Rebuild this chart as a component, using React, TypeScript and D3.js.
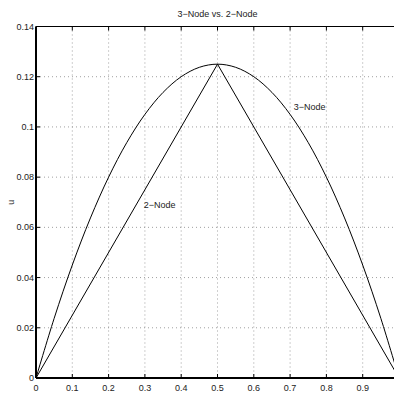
import React from 'react';
import * as d3 from 'd3';

// values
const xNodes3 = [0, 0.05, 0.1, 0.15, 0.2, 0.25, 0.3, 0.35, 0.4, 0.45, 0.5, 0.55, 0.6, 0.65, 0.7, 0.75, 0.8, 0.85, 0.9, 0.95, 1];
const uNodes3 = [0, 0.02375, 0.045, 0.06375, 0.08, 0.09375, 0.105, 0.11375, 0.12, 0.12375, 0.125, 0.12375, 0.12, 0.11375, 0.105, 0.09375, 0.08, 0.06375, 0.045, 0.02375, 0];
const xNodes2 = [0, 0.5, 1];
const uNodes2 = [0, 0.125, 0];
const xTicks = [0, 0.1, 0.2, 0.3, 0.4, 0.5, 0.6, 0.7, 0.8, 0.9, 1];
const yTicks = [0, 0.02, 0.04, 0.06, 0.08, 0.1, 0.12, 0.14];

const W = 394;
const H = 397;
const left = 36;
const top = 26.5;
const right = 399;
const bottom = 378;
const font = 'Liberation Sans, Arial, sans-serif';

export default function App() {
  const x = d3.scaleLinear().domain([0, 1]).range([left, right]);
  const y = d3.scaleLinear().domain([0, 0.14]).range([bottom, top]);

  const curve3 = d3.line<number>()
    .x((d, i) => x(xNodes3[i]))
    .y(d => y(d))
    .curve(d3.curveCatmullRom)(uNodes3) || '';
  const line2 = d3.line<number>()
    .x((d, i) => x(xNodes2[i]))
    .y(d => y(d))(uNodes2) || '';

  return (
    <svg width={W} height={H} style={{ position: 'absolute', left: 0, top: 0, background: '#fff' }}>
      <rect x={0} y={0} width={W} height={H} fill="#fff" />
      {/* grid */}
      {xTicks.slice(1).map(t => (
        <line key={'gx' + t} x1={x(t)} x2={x(t)} y1={top} y2={bottom} stroke="#888" strokeWidth={0.8} strokeDasharray="1,3" />
      ))}
      {yTicks.slice(1, -1).map(t => (
        <line key={'gy' + t} x1={left} x2={right} y1={y(t)} y2={y(t)} stroke="#888" strokeWidth={0.8} strokeDasharray="1,3" />
      ))}
      {/* ticks */}
      {xTicks.map(t => (
        <g key={'tx' + t}>
          <line x1={x(t)} x2={x(t)} y1={bottom} y2={bottom - 4} stroke="#000" />
          <line x1={x(t)} x2={x(t)} y1={top} y2={top + 4} stroke="#000" />
          {t < 1 && (
            <text x={x(t)} y={bottom + 13} textAnchor="middle" fontFamily={font} fontSize={9} fill="#222">{t}</text>
          )}
        </g>
      ))}
      {yTicks.map(t => (
        <g key={'ty' + t}>
          <line x1={left} x2={left + 4} y1={y(t)} y2={y(t)} stroke="#000" />
          <text x={left - 2} y={y(t) + 3} textAnchor="end" fontFamily={font} fontSize={9} fill="#222">{t}</text>
        </g>
      ))}
      {/* axes box */}
      <line x1={left} x2={W} y1={top} y2={top} stroke="#000" strokeWidth={1.2} />
      <line x1={left} x2={W} y1={bottom} y2={bottom} stroke="#000" strokeWidth={2} />
      <line x1={left} x2={left} y1={top} y2={bottom} stroke="#000" strokeWidth={2} />
      {/* curves */}
      <path d={curve3} fill="none" stroke="#000" strokeWidth={1} />
      <path d={line2} fill="none" stroke="#000" strokeWidth={1} />
      {/* labels */}
      <text x={x(0.5)} y={17} textAnchor="middle" fontFamily={font} fontSize={9} fill="#222">3−Node vs. 2−Node</text>
      <text x={x(0.71)} y={y(0.108) + 3} fontFamily={font} fontSize={9} fill="#222">3−Node</text>
      <text x={x(0.297)} y={y(0.069) + 3} fontFamily={font} fontSize={9} fill="#222">2−Node</text>
      <text transform={`translate(14,${(top + bottom) / 2}) rotate(-90)`} textAnchor="middle" fontFamily={font} fontSize={9} fill="#222">u</text>
      <text x={x(0.5)} y={403} textAnchor="middle" fontFamily={font} fontSize={9} fill="#222">x</text>
    </svg>
  );
}
